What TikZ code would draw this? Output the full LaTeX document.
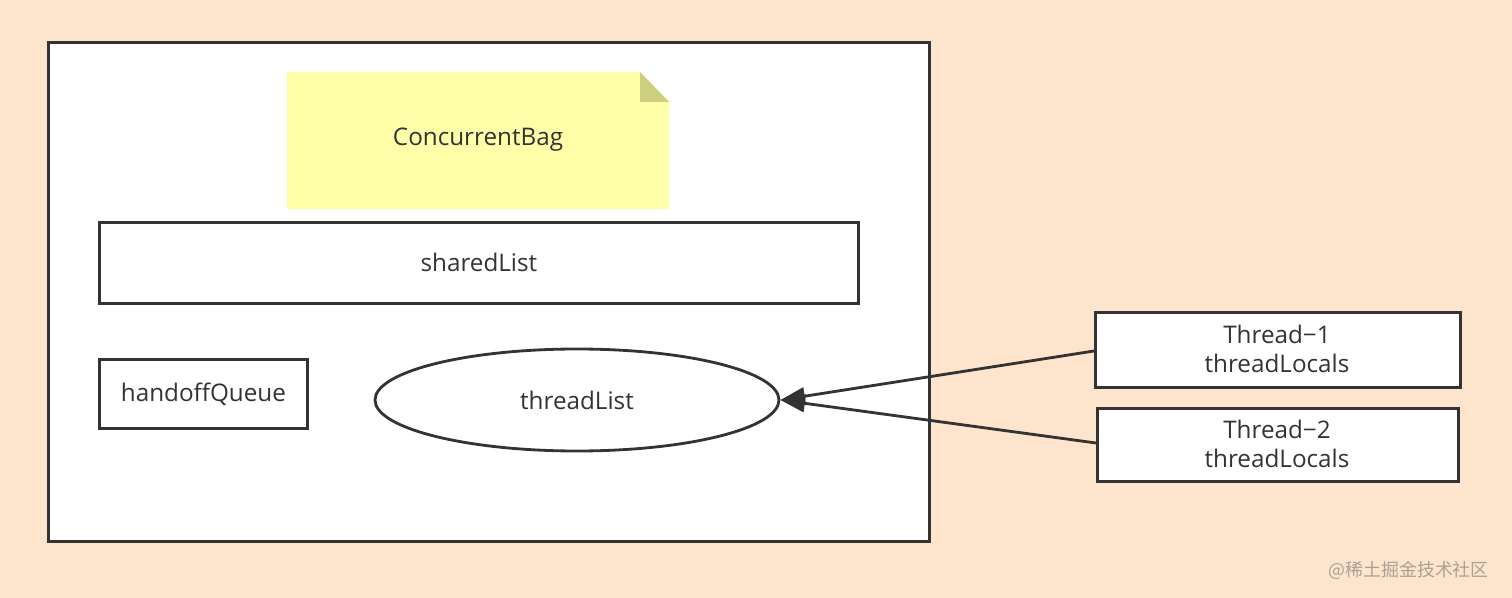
\documentclass[tikz,border=0pt]{standalone}
\usepackage{fontspec}
\setmainfont{Open Sans}
\newfontfamily\cjk{Noto Sans CJK SC}
\usetikzlibrary{arrows.meta,shapes.geometric}
\definecolor{bgpeach}{HTML}{FDE5CD}
\definecolor{noteyellow}{HTML}{FFFFAA}
\definecolor{notefold}{HTML}{CFCF80}
\definecolor{edge}{HTML}{333333}
\definecolor{wm}{HTML}{A9A196}
\tikzset{
  box/.style={draw=edge, line width=1.6pt, fill=white, inner sep=0pt},
  lbl/.style={font=\fontsize{13.8}{16.5}\selectfont, text=edge, align=center},
  conn/.style={draw=edge, line width=1.6pt, -{Triangle[length=14pt,width=10pt]}},
}
\begin{document}
\begin{tikzpicture}[x=0.02cm,y=-0.02cm]
\fill[bgpeach] (0,0) rectangle (1512,598);
\useasboundingbox (0,0) rectangle (1512,598);
% outer container
\node[box, minimum width=881*0.02cm, minimum height=499*0.02cm, anchor=north west] (outer) at (47,41) {};
% note
\fill[noteyellow] (287,72) -- (640,72) -- (669,101) -- (669,209) -- (287,209) -- cycle;
\fill[notefold] (640,72) -- (640,102) -- (669,102) -- cycle;
\node[lbl] (bag) at (478,140) {ConcurrentBag};
% shared list
\node[box, minimum width=759*0.02cm, minimum height=81*0.02cm, anchor=north west] (shared) at (98,221) {};
\node[lbl] (sharedtxt) at (shared.center) {sharedList};
% handoff
\node[box, minimum width=208*0.02cm, minimum height=69*0.02cm, anchor=north west] (handoff) at (98,358) {};
\node[lbl] (handofftxt) at (handoff.center) {handoffQueue};
% thread list ellipse
\node[ellipse, box, minimum width=404*0.02cm, minimum height=102*0.02cm] (tlist) at (577,400) {};
\node[lbl] (tlisttxt) at (tlist.center) {threadList};
% threads
\node[box, minimum width=365*0.02cm, minimum height=75*0.02cm, anchor=north west] (t1) at (1094,311) {};
\node[lbl] (t1txt) at (1277,349) {Thread−1\\threadLocals};
\node[box, minimum width=361*0.02cm, minimum height=73*0.02cm, anchor=north west] (t2) at (1096,407) {};
\node[lbl] (t2txt) at (1277,444) {Thread−2\\threadLocals};
% connectors
\coordinate (t1in) at (1094,351);
\coordinate (t2in) at (1096,443);
\draw[conn] (t1in) -- (tlist.east);
\draw[conn] (t2in) -- (tlist.east);
% watermark
\node[text=wm, font=\cjk\fontsize{10.2}{12}\selectfont, anchor=east] (wmark) at (1495,570) {@稀土掘金技术社区};
\end{tikzpicture}
\end{document}
